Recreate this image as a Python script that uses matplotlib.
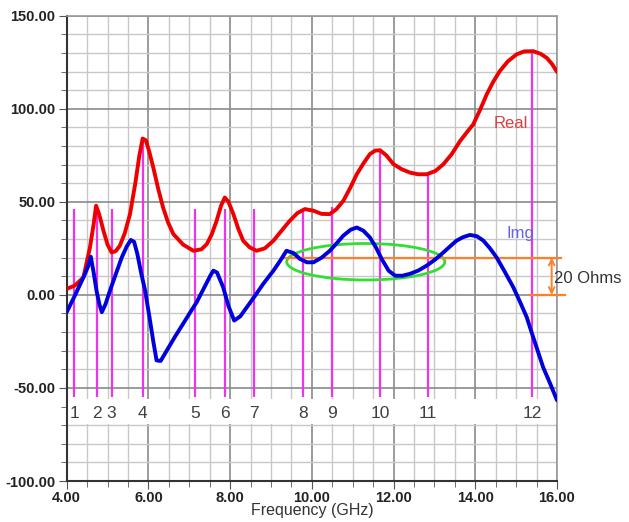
import matplotlib
matplotlib.use("Agg")
import matplotlib.pyplot as plt
from matplotlib.patches import Ellipse
import numpy as np

# Real part of impedance (GHz, Ohms)
real_f = [4.00, 4.20, 4.41, 4.57, 4.66, 4.72, 4.80, 4.90, 5.00, 5.10, 5.20, 5.30, 5.42, 5.55, 5.68,
          5.78, 5.86, 5.94, 6.02, 6.12, 6.24, 6.36, 6.48, 6.61, 6.85, 7.10, 7.30, 7.43, 7.55, 7.67,
          7.78, 7.87, 7.96, 8.08, 8.20, 8.32, 8.48, 8.65, 8.85, 9.06, 9.26, 9.46, 9.65, 9.83, 10.04,
          10.24, 10.44, 10.60, 10.77, 10.94, 11.10, 11.26, 11.42, 11.55, 11.67, 11.82, 12.00, 12.20,
          12.40, 12.60, 12.81, 13.02, 13.22, 13.42, 13.63, 13.80, 13.95, 14.12, 14.28, 14.44, 14.60,
          14.80, 15.01, 15.20, 15.42, 15.60, 15.75, 15.88, 16.00]
real_v = [3.2, 5.0, 9.4, 25.5, 38.0, 47.9, 43.0, 34.5, 27.0, 22.8, 23.5, 26.4, 33.0, 43.4, 60.0,
          75.0, 84.0, 83.0, 77.0, 68.4, 57.0, 46.9, 39.0, 32.7, 27.0, 23.7, 24.5, 27.3, 32.5, 39.8,
          48.0, 52.3, 50.0, 43.4, 35.5, 29.1, 25.5, 23.7, 25.0, 29.1, 34.5, 39.8, 44.0, 46.1, 45.2,
          43.5, 43.4, 46.0, 50.5, 57.5, 64.8, 70.5, 75.6, 77.5, 77.7, 75.0, 70.2, 67.5,
          65.7, 64.8, 64.8, 66.5, 70.2, 75.5, 82.7, 87.5, 91.6, 99.5, 107.7, 114.5, 120.2,
          125.5, 129.2, 130.8, 130.9, 129.5, 127.3, 124.0, 119.8]

# Imaginary part
img_f = [4.00, 4.20, 4.41, 4.52, 4.59, 4.66, 4.73, 4.80, 4.86, 4.95, 5.06, 5.20, 5.35, 5.47, 5.57,
         5.65, 5.73, 5.82, 5.92, 6.04, 6.12, 6.20, 6.30, 6.45, 6.65, 6.85, 7.02, 7.18, 7.38, 7.52,
         7.59, 7.68, 7.83, 7.96, 8.10, 8.25, 8.41, 8.61, 8.81, 9.06, 9.23, 9.38, 9.55, 9.71, 9.88,
         10.04, 10.24, 10.44, 10.60, 10.77, 10.95, 11.10, 11.26, 11.42, 11.57, 11.71, 11.88, 12.04,
         12.22, 12.40, 12.60, 12.81, 13.02, 13.22, 13.38, 13.54, 13.70, 13.87, 14.04, 14.20, 14.36,
         14.52, 14.72, 14.93, 15.10, 15.26, 15.39, 15.52, 15.66, 15.83, 16.00]
img_v = [-9.3, -0.4, 9.4, 15.0, 20.5, 12.0, 2.3, -5.0, -9.3, -5.0, 2.3, 11.0, 20.2, 26.0, 29.5,
         28.5, 22.0, 12.0, 2.3, -13.8, -25.0, -35.2, -35.5, -29.9, -22.5, -15.5, -9.5, -4.0, 4.5, 10.5,
         13.0, 12.0, 4.1, -6.0, -13.8, -11.5, -6.6, -0.5, 5.9, 13.0, 18.5, 23.7, 22.5, 19.3, 17.5,
         17.5, 20.0, 23.7, 27.5, 31.8, 35.0, 36.2, 34.5, 30.9, 25.5, 19.3, 13.0, 10.3,
         10.3, 11.3, 13.0, 15.7, 19.0, 22.8, 26.0, 29.1, 31.0, 32.2, 31.5, 29.1, 25.0,
         20.2, 12.5, 4.1, -4.0, -12.0, -20.9, -29.5, -38.8, -47.5, -56.6]

# marker lines
marker_f = [4.18, 4.73, 5.10, 5.86, 7.14, 7.88, 8.58, 9.78, 10.49, 11.67, 12.84, 15.40]
marker_top = [46, 46, 46, 83, 46, 46, 46, 46, 47, 77, 66, 130]
marker_labels = ["1", "2", "3", "4", "5", "6", "7", "8", "9", "10", "11", "12"]
marker_bottom = -55

fig = plt.figure(figsize=(6.29, 5.22), dpi=100)
ax = fig.add_axes([0.106, 0.0785, 0.7795, 0.8915])

ax.set_xlim(4, 16)
ax.set_ylim(-100, 150)
ax.set_xticks(np.arange(4, 16.01, 2))
ax.set_xticks(np.arange(4, 16.01, 0.5), minor=True)
ax.set_yticks(np.arange(-100, 150.1, 50))
ax.set_yticks(np.arange(-100, 150.1, 10), minor=True)
ax.set_xticklabels(["%.2f" % v for v in np.arange(4, 16.01, 2)])
ax.set_yticklabels(["%.2f" % v for v in np.arange(-100, 150.1, 50)])

ax.grid(which="minor", color="#c8c8c8", linewidth=1.0, zorder=0)
ax.grid(which="major", color="#8a8a8a", linewidth=1.2, zorder=0)
ax.set_axisbelow(True)
ax.tick_params(which="both", direction="out", colors="#555555", labelcolor="#222222",
               labelsize=10.5)
ax.tick_params(which="major", length=6)
ax.tick_params(which="minor", length=4)
ax.tick_params(axis="x", pad=1)
ax.tick_params(axis="y", pad=2)
for lab in ax.get_xticklabels() + ax.get_yticklabels():
    lab.set_fontfamily("Liberation Sans")
    lab.set_fontweight("bold")
for s in ["left", "bottom"]:
    ax.spines[s].set_color("#333333")
    ax.spines[s].set_linewidth(1.5)
for s in ["top", "right"]:
    ax.spines[s].set_color("#999999")
    ax.spines[s].set_linewidth(1.2)

# white band behind marker numbers
ax.axhspan(-69.3, -55.7, color="white", zorder=1, linewidth=0)

ax.vlines(marker_f, marker_bottom, marker_top, color="#ee33ee", linewidth=1.6, zorder=2)
for f, lab in zip(marker_f, marker_labels):
    ax.text(f, -63.6, lab, ha="center", va="center", fontsize=12.5, color="#404040",
            family="Liberation Sans", zorder=5)

ax.plot(real_f, real_v, color="#ee0000", linewidth=2.8, zorder=4, solid_capstyle="round")
ax.plot(img_f, img_v, color="#0000dd", linewidth=2.8, zorder=4, solid_capstyle="round")

ax.text(14.87, 92.3, "Real", color="#d84040", fontsize=12, ha="center", va="center",
        family="Liberation Sans", zorder=5)
ax.text(15.1, 32.8, "Img", color="#6464e6", fontsize=12, ha="center", va="center",
        family="Liberation Sans", zorder=5)

# green ellipse and 20 Ohms marking
ax.add_patch(Ellipse((11.32, 17.8), 3.87, 19.6, fill=False, edgecolor="#33dd33",
                     linewidth=2, zorder=3))
ax.plot([9.30, 16.11], [20, 20], color="#ff7f27", linewidth=1.6, zorder=3, clip_on=False)
ax.plot([15.34, 16.2], [0, 0], color="#ff7f27", linewidth=1.6, zorder=3, clip_on=False)
ax.annotate("", xy=(15.87, 20), xytext=(15.87, 0),
            arrowprops=dict(arrowstyle="<->", color="#ff7f27", lw=1.4,
                            shrinkA=0, shrinkB=0), annotation_clip=False)
ax.text(15.92, 9, "20 Ohms", color="#333333", fontsize=12, ha="left", va="center",
        family="Liberation Sans", clip_on=False)

ax.set_xlabel("Frequency (GHz)", fontsize=11.5, family="Liberation Sans", color="#333333",
              labelpad=-1)

fig.savefig("out.png", dpi=100)
